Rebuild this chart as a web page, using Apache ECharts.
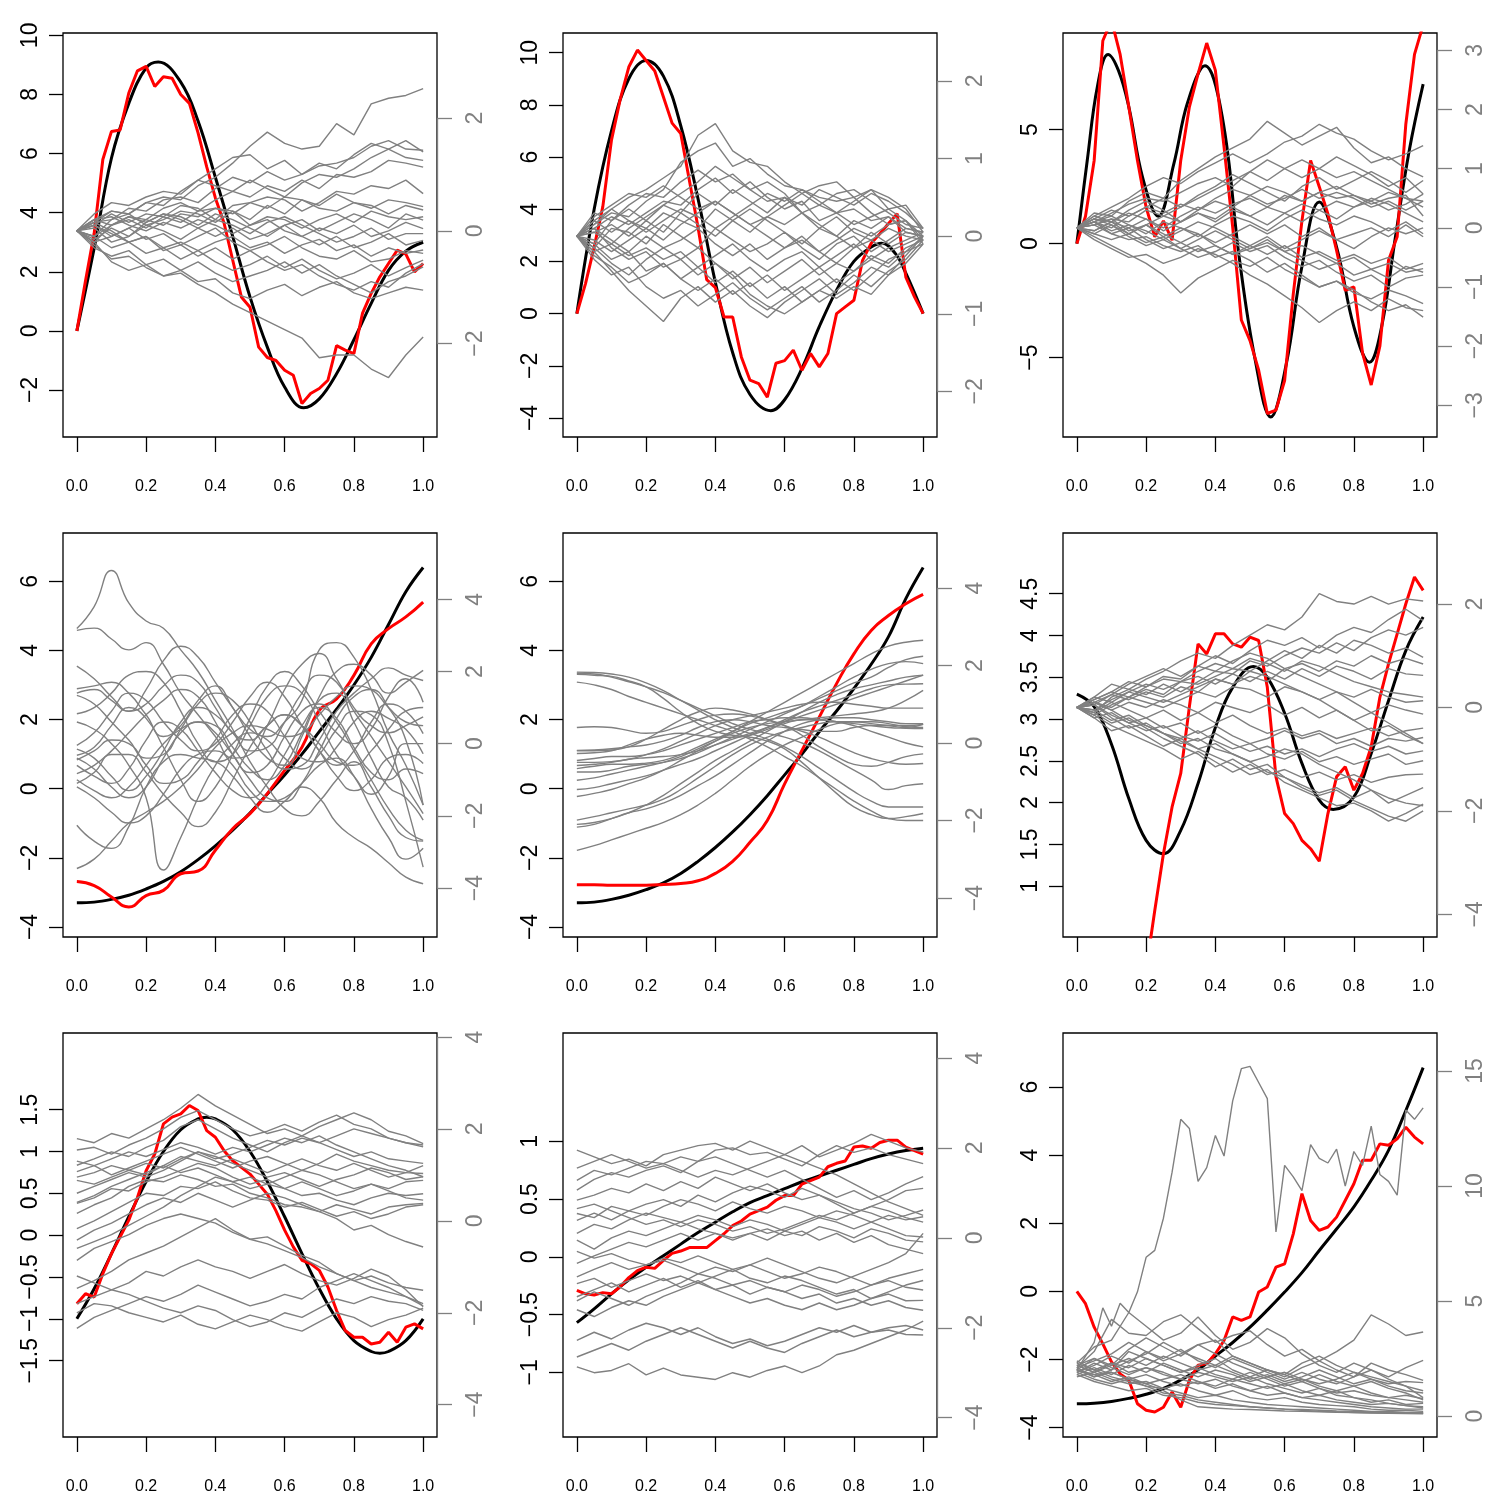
<!DOCTYPE html>
<html>
<head>
<meta charset="utf-8">
<script src="https://cdn.jsdelivr.net/npm/echarts@6/dist/echarts.min.js"></script>
<style>
  html, body { margin: 0; padding: 0; background: #fff; }
  #chart { width: 1500px; height: 1500px; }
</style>
</head>
<body>
<div id="chart"></div>
<script>
// x grids
var xTicks = [0, 0.2, 0.4, 0.6, 0.8, 1];
var xCoarse = [0, 0.05, 0.1, 0.15, 0.2, 0.25, 0.3, 0.35, 0.4, 0.45, 0.5, 0.55, 0.6, 0.65, 0.7, 0.75, 0.8, 0.85, 0.9, 0.95, 1];
var xFine = [0, 0.025, 0.05, 0.075, 0.1, 0.125, 0.15, 0.175, 0.2, 0.225, 0.25, 0.275, 0.3, 0.325, 0.35, 0.375, 0.4, 0.425, 0.45, 0.475, 0.5,
  0.525, 0.55, 0.575, 0.6, 0.625, 0.65, 0.675, 0.7, 0.725, 0.75, 0.775, 0.8, 0.825, 0.85, 0.875, 0.9, 0.925, 0.95, 0.975, 1];

// ---- panel 1
var p1LeftTicks = [-2, 0, 2, 4, 6, 8, 10];
var p1RightTicks = [-2, 0, 2];
var p1LeftRange = [-3.59, 10.08];
var p1RightRange = [-3.654, 3.507];
var p1BlackX = [0, 0.05, 0.1, 0.15, 0.2, 0.235, 0.3, 0.35, 0.4, 0.45, 0.5, 0.55, 0.6, 0.655, 0.7, 0.75, 0.8, 0.85, 0.9, 0.95, 1];
var p1Black = [0, 2.8, 5.85, 7.7, 8.9, 9.1, 8.42, 7.1, 5.2, 3.2, 1.15, -0.55, -1.9, -2.6, -2.3, -1.45, -0.3, 0.93, 2.05, 2.7, 3.0];
var p1Red = [0, 1.7, 3.3, 5.8, 6.75, 6.8, 8.05, 8.8, 8.95, 8.27, 8.6, 8.55, 8.0, 7.7, 6.7, 5.55, 4.5, 3.65, 2.4, 1.15, 0.8,
  -0.55, -0.9, -1.0, -1.33, -1.5, -2.46, -2.12, -1.95, -1.67, -0.5, -0.65, -0.77, 0.6, 1.27, 1.83, 2.28, 2.73, 2.6, 2.0, 2.28];
var p1Gray = [
  [0, 0.2, 0.35, 0.3, 0.5, 0.6, 0.55, 0.8, 0.95, 1.2, 1.5, 1.75, 1.55, 1.45, 1.5, 1.9, 1.7, 2.25, 2.35, 2.4, 2.52],
  [0, 0.3, 0.5, 0.45, 0.6, 0.7, 0.65, 0.9, 1.1, 1.3, 1.35, 1.1, 1.25, 1.0, 1.15, 1.2, 1.3, 1.5, 1.6, 1.45, 1.43],
  [0, 0.15, 0.2, 0.4, 0.35, 0.55, 0.6, 0.5, 0.75, 0.95, 0.85, 1.05, 0.9, 1.0, 1.2, 1.1, 1.35, 1.55, 1.45, 1.6, 1.4],
  [0, -0.1, 0.2, 0.3, 0.5, 0.45, 0.7, 0.9, 0.8, 0.7, 0.9, 0.75, 0.6, 0.85, 1.0, 0.95, 1.1, 1.3, 1.45, 1.3, 1.25],
  [0, 0.2, 0.1, 0.25, 0.2, 0.4, 0.5, 0.35, 0.55, 0.7, 0.6, 0.8, 0.7, 0.9, 0.75, 1.0, 0.95, 1.05, 1.25, 1.2, 1.13],
  [0, 0.1, 0.3, 0.15, 0.3, 0.25, 0.45, 0.4, 0.2, 0.45, 0.5, 0.6, 0.55, 0.35, 0.5, 0.7, 0.65, 0.8, 0.75, 0.9, 0.66],
  [0, -0.2, 0.1, 0.2, 0.05, 0.25, 0.15, 0.35, 0.4, 0.3, 0.5, 0.4, 0.6, 0.55, 0.45, 0.65, 0.5, 0.4, 0.55, 0.5, 0.43],
  [0, 0.15, 0.35, 0.3, 0.1, 0.2, 0.35, 0.3, 0.15, 0.35, 0.2, 0.45, 0.3, 0.55, 0.4, 0.35, 0.5, 0.45, 0.3, 0.45, 0.37],
  [0, 0.1, -0.1, 0.05, 0.2, 0.1, 0.3, 0.25, 0.4, 0.35, 0.1, 0.25, 0.2, 0.05, 0.2, 0.3, 0.15, 0.35, 0.25, 0.2, 0.25],
  [0, -0.15, 0.05, -0.1, 0.15, 0.3, 0.25, 0.1, 0.3, 0.2, 0.05, -0.1, 0.1, 0.2, 0.0, 0.15, 0.3, 0.2, 0.05, 0.3, 0.19],
  [0, 0.2, 0.25, 0.1, 0.0, 0.15, 0.05, 0.2, 0.1, -0.05, 0.1, 0.2, 0.0, -0.1, 0.05, -0.05, 0.1, -0.1, 0.0, 0.15, 0.04],
  [0, 0.05, -0.2, -0.1, 0.1, 0.0, -0.15, 0.05, 0.2, 0.1, -0.05, 0.15, 0.25, 0.1, -0.05, -0.2, -0.1, 0.05, -0.15, -0.05, -0.05],
  [0, -0.1, 0.1, 0.25, 0.15, 0.3, 0.2, 0.05, -0.1, 0.05, -0.15, -0.05, 0.1, -0.1, -0.25, -0.1, -0.3, -0.2, -0.05, -0.25, -0.17],
  [0, 0.1, -0.05, -0.2, -0.1, -0.3, -0.2, -0.35, -0.2, -0.1, -0.3, -0.2, -0.4, -0.25, -0.15, -0.35, -0.25, -0.45, -0.3, -0.4, -0.34],
  [0, -0.2, -0.1, 0.05, -0.15, -0.05, -0.25, -0.1, 0.05, -0.2, -0.35, -0.25, -0.1, -0.3, -0.45, -0.5, -0.35, -0.55, -0.5, -0.35, -0.4],
  [0, -0.1, -0.3, -0.2, -0.4, -0.3, -0.5, -0.35, -0.55, -0.7, -0.6, -0.45, -0.65, -0.5, -0.7, -0.85, -0.75, -0.6, -0.8, -0.65, -0.52],
  [0, 0.15, 0.0, -0.2, -0.1, -0.35, -0.25, -0.45, -0.3, -0.5, -0.35, -0.55, -0.7, -0.6, -0.8, -0.95, -1.05, -0.9, -1.0, -0.75, -0.58],
  [0, -0.3, -0.45, -0.35, -0.6, -0.5, -0.7, -0.55, -0.75, -0.9, -0.8, -0.7, -0.55, -0.75, -0.6, -0.8, -0.95, -1.1, -0.9, -0.8, -0.64],
  [0, -0.2, -0.55, -0.7, -0.6, -0.8, -0.7, -0.9, -0.85, -1.1, -1.2, -1.05, -0.95, -1.15, -1.0, -0.9, -1.1, -1.2, -1.1, -1.0, -1.05],
  [0, -0.25, -0.5, -0.45, -0.65, -0.8, -0.75, -0.95, -1.1, -1.3, -1.45, -1.6, -1.75, -1.9, -2.25, -2.2, -2.2, -2.45, -2.6, -2.2, -1.88]
];

// ---- panel 2
var p2LeftTicks = [-4, -2, 0, 2, 4, 6, 8, 10];
var p2RightTicks = [-2, -1, 0, 1, 2];
var p2LeftRange = [-4.728, 10.754];
var p2RightRange = [-2.588, 2.618];
var p2BlackX = [0, 0.05, 0.1, 0.15, 0.2, 0.25, 0.3, 0.35, 0.4, 0.45, 0.5, 0.56, 0.6, 0.65, 0.7, 0.75, 0.8, 0.85, 0.88, 0.92, 0.95, 1];
var p2Black = [0, 4.0, 7.0, 9.0, 9.7, 9.1, 7.2, 4.4, 1.2, -1.5, -3.1, -3.72, -3.3, -2.1, -0.5, 0.9, 2.0, 2.55, 2.7, 2.3, 1.55, 0];
var p2Red = [0, 1.15, 2.55, 4.1, 6.65, 8.2, 9.45, 10.1, 9.7, 9.3, 8.3, 7.3, 6.9, 5.1, 3.3, 1.3, 1.0, -0.13, -0.13, -1.66, -2.55,
  -2.68, -3.2, -1.9, -1.8, -1.4, -2.17, -1.53, -2.04, -1.53, 0.0, 0.26, 0.51, 2.04, 2.7, 3.06, 3.45, 3.83, 1.4, 0.64, 0];
var p2Gray = [
  [0, 0.2, 0.35, 0.5, 0.6, 0.75, 0.9, 1.3, 1.45, 1.1, 0.95, 0.9, 0.7, 0.55, 0.4, 0.3, 0.35, 0.2, 0.25, 0.1, 0.05],
  [0, 0.15, 0.3, 0.25, 0.45, 0.6, 0.95, 1.1, 1.2, 0.9, 1.0, 0.8, 0.65, 0.6, 0.5, 0.45, 0.5, 0.3, 0.15, 0.2, 0.0],
  [0, 0.3, 0.2, 0.4, 0.55, 0.5, 0.7, 0.85, 0.7, 0.8, 0.6, 0.45, 0.5, 0.3, 0.4, 0.55, 0.6, 0.45, 0.3, 0.15, 0.1],
  [0, 0.1, 0.25, 0.15, 0.3, 0.45, 0.4, 0.6, 0.75, 0.55, 0.7, 0.5, 0.35, 0.45, 0.2, 0.3, 0.15, 0.25, 0.35, 0.2, -0.05],
  [0, -0.1, 0.2, 0.35, 0.2, 0.4, 0.3, 0.55, 0.4, 0.6, 0.45, 0.3, 0.5, 0.4, 0.6, 0.5, 0.4, 0.55, 0.45, 0.3, 0.1],
  [0, 0.2, 0.05, 0.2, 0.1, 0.3, 0.2, 0.1, 0.35, 0.2, 0.05, 0.25, 0.15, 0.3, 0.1, 0.0, 0.2, 0.1, 0.25, 0.05, 0.0],
  [0, 0.05, 0.15, 0.0, 0.2, 0.05, 0.3, 0.15, 0.0, 0.2, 0.35, 0.2, 0.05, -0.1, 0.1, 0.25, 0.05, -0.05, 0.1, 0.0, -0.05],
  [0, -0.15, 0.1, 0.05, -0.1, 0.15, 0.0, -0.15, 0.1, -0.05, -0.2, -0.1, 0.05, -0.15, -0.3, -0.1, 0.0, -0.2, -0.05, 0.1, 0.05],
  [0, 0.1, -0.05, -0.2, 0.0, -0.15, -0.05, 0.1, -0.1, -0.25, -0.1, -0.3, -0.15, -0.05, -0.2, -0.35, -0.15, -0.05, -0.2, -0.1, 0.0],
  [0, -0.2, -0.1, -0.25, -0.15, -0.3, -0.2, -0.4, -0.25, -0.1, -0.3, -0.45, -0.3, -0.2, -0.4, -0.25, -0.1, -0.3, -0.15, -0.05, 0.05],
  [0, 0.1, -0.15, -0.3, -0.2, -0.4, -0.3, -0.5, -0.35, -0.55, -0.4, -0.6, -0.45, -0.3, -0.5, -0.35, -0.45, -0.25, -0.35, -0.15, -0.05],
  [0, -0.1, -0.3, -0.2, -0.45, -0.35, -0.55, -0.4, -0.6, -0.45, -0.65, -0.5, -0.7, -0.55, -0.4, -0.6, -0.45, -0.3, -0.4, -0.2, 0.0],
  [0, -0.25, -0.4, -0.6, -0.5, -0.35, -0.55, -0.7, -0.55, -0.75, -0.6, -0.8, -0.65, -0.85, -0.7, -0.55, -0.7, -0.5, -0.3, -0.2, -0.1],
  [0, -0.3, -0.5, -0.4, -0.65, -0.8, -0.7, -0.9, -0.75, -0.6, -0.8, -0.95, -0.8, -0.65, -0.85, -0.7, -0.5, -0.65, -0.45, -0.3, -0.05],
  [0, -0.2, -0.45, -0.7, -0.9, -1.1, -0.8, -0.65, -0.85, -0.7, -0.9, -1.05, -0.85, -0.7, -0.55, -0.75, -0.6, -0.4, -0.5, -0.25, 0.0],
  [0, 0.25, 0.4, 0.55, 0.5, 0.65, 0.5, 0.35, 0.45, 0.3, 0.15, 0.25, 0.4, 0.55, 0.65, 0.7, 0.5, 0.6, 0.35, 0.4, 0.1],
  [0, 0.15, 0.35, 0.2, 0.05, 0.2, 0.35, 0.25, 0.1, 0.25, 0.4, 0.55, 0.45, 0.6, 0.45, 0.3, 0.45, 0.6, 0.5, 0.35, 0.05],
  [0, -0.05, -0.2, -0.05, 0.1, -0.05, 0.15, 0.3, 0.45, 0.3, 0.15, 0.0, -0.15, 0.0, -0.2, -0.05, 0.1, 0.0, 0.15, 0.2, -0.1],
  [0, 0.05, -0.1, 0.1, 0.25, 0.4, 0.55, 0.7, 0.9, 0.75, 0.6, 0.7, 0.55, 0.3, 0.15, 0.0, -0.15, 0.05, -0.1, 0.05, 0.0],
  [0, -0.15, -0.35, -0.5, -0.3, -0.15, -0.3, -0.15, -0.35, -0.5, -0.75, -0.9, -1.0, -0.85, -0.7, -0.8, -0.65, -0.75, -0.5, -0.35, -0.1]
];

// ---- panel 3
var p3LeftTicks = [-5, 0, 5];
var p3RightTicks = [-3, -2, -1, 0, 1, 2, 3];
var p3LeftRange = [-8.48, 9.24];
var p3RightRange = [-3.535, 3.293];
var p3BlackX = [0, 0.03, 0.06, 0.09, 0.12, 0.15, 0.19, 0.235, 0.28, 0.32, 0.37, 0.42, 0.47, 0.515, 0.56, 0.605, 0.65, 0.7, 0.75, 0.8, 0.845, 0.88, 0.92, 0.96, 1];
var p3Black = [0, 3.65, 6.95, 8.3, 7.6, 6.0, 2.9, 1.2, 3.5, 6.2, 7.8, 5.55, -0.73, -5.1, -7.6, -5.26, -1.0, 1.83, -0.15, -3.65, -5.2, -3.65, 0.3, 4.1, 7.0];
var p3Red = [0, 1.2, 3.65, 8.9, 9.8, 8.3, 6.0, 3.65, 1.6, 0.3, 1.0, 0.15, 3.65, 6.0, 7.45, 8.8, 7.6, 4.25, 0.73, -3.35, -4.25,
  -5.55, -7.45, -7.3, -6.0, -2.2, 1.0, 3.65, 2.5, 1.3, -0.3, -2.05, -1.9, -4.8, -6.2, -4.5, -0.73, 0.3, 5.25, 8.3, 9.6];
var p3Gray = [
  [0, 0.15, 0.3, 0.2, 0.35, 0.5, 0.8, 1.0, 1.2, 1.35, 1.5, 1.8, 1.6, 1.4, 1.55, 1.7, 1.35, 1.1, 1.2, 1.0, 0.86],
  [0, 0.2, 0.35, 0.5, 0.7, 0.85, 0.75, 0.95, 1.1, 1.25, 1.1, 1.25, 1.45, 1.55, 1.75, 1.6, 1.5, 1.3, 1.15, 1.25, 1.39],
  [0, 0.1, 0.25, 0.4, 0.5, 0.45, 0.6, 0.75, 0.85, 0.7, 0.95, 1.15, 1.0, 0.85, 1.0, 1.2, 1.05, 0.9, 0.7, 0.85, 0.57],
  [0, 0.25, 0.2, 0.45, 0.6, 0.5, 0.35, 0.55, 0.7, 0.9, 0.75, 0.6, 0.45, 0.7, 0.85, 0.65, 0.8, 0.95, 0.8, 0.6, 0.8],
  [0, 0.1, 0.0, 0.2, 0.35, 0.25, 0.4, 0.3, 0.5, 0.65, 0.55, 0.7, 0.6, 0.45, 0.6, 0.7, 0.55, 0.45, 0.6, 0.5, 0.35],
  [0, 0.05, 0.15, 0.1, 0.3, 0.2, 0.1, 0.3, 0.45, 0.35, 0.55, 0.4, 0.5, 0.65, 0.5, 0.6, 0.5, 0.35, 0.45, 0.3, 0.45],
  [0, 0.15, 0.1, 0.25, 0.15, 0.0, 0.2, 0.35, 0.25, 0.4, 0.5, 0.35, 0.55, 0.45, 0.6, 0.5, 0.55, 0.4, 0.5, 0.55, 0.2],
  [0, -0.05, 0.1, 0.0, 0.15, -0.05, 0.1, 0.25, 0.1, 0.3, 0.2, 0.35, 0.25, 0.1, 0.3, 0.45, 0.35, 0.5, 0.4, 0.25, 0.1],
  [0, 0.1, -0.05, 0.05, -0.1, 0.1, 0.0, -0.15, 0.05, 0.2, 0.1, -0.05, 0.15, 0.3, 0.15, 0.05, 0.2, 0.1, -0.05, 0.1, -0.1],
  [0, 0.05, 0.15, -0.05, 0.05, -0.15, 0.0, -0.1, -0.25, -0.1, 0.05, -0.1, 0.05, -0.15, 0.0, -0.2, -0.1, 0.0, -0.15, 0.05, -0.15],
  [0, -0.1, 0.05, -0.15, -0.3, -0.2, -0.35, -0.2, -0.05, -0.2, -0.35, -0.25, -0.4, -0.3, -0.45, -0.6, -0.5, -0.7, -0.6, -0.75, -0.69],
  [0, 0.1, -0.1, 0.0, -0.2, -0.35, -0.25, -0.1, -0.3, -0.45, -0.35, -0.2, -0.4, -0.55, -0.7, -0.6, -0.8, -0.7, -0.85, -0.65, -0.75],
  [0, -0.05, 0.1, -0.1, -0.25, -0.15, -0.35, -0.5, -0.4, -0.25, -0.4, -0.3, -0.5, -0.65, -0.55, -0.75, -0.9, -0.8, -1.0, -0.85, -0.8],
  [0, -0.15, -0.3, -0.45, -0.6, -0.8, -1.1, -0.85, -0.7, -0.55, -0.65, -0.5, -0.7, -0.85, -1.0, -0.9, -1.1, -1.2, -1.05, -1.15, -1.28],
  [0, -0.2, -0.35, -0.5, -0.45, -0.6, -0.5, -0.35, -0.45, -0.6, -0.8, -0.95, -1.15, -1.35, -1.6, -1.4, -1.25, -1.4, -1.2, -1.35, -1.4],
  [0, 0.05, -0.1, -0.2, -0.15, -0.3, -0.4, -0.3, -0.5, -0.4, -0.55, -0.75, -0.6, -0.8, -1.0, -0.9, -1.05, -1.25, -1.4, -1.3, -1.51],
  [0, 0.2, 0.1, 0.3, 0.45, 0.3, 0.1, 0.25, 0.15, 0.35, 0.2, 0.05, 0.25, 0.4, 0.3, 0.15, 0.35, 0.45, 0.3, 0.4, 0.57],
  [0, 0.1, 0.2, 0.05, -0.05, -0.2, -0.05, 0.1, 0.0, -0.15, -0.3, -0.45, -0.3, -0.5, -0.4, -0.55, -0.45, -0.6, -0.5, -0.7, -0.6],
  [0, -0.1, -0.2, -0.1, 0.05, 0.2, 0.35, 0.5, 0.65, 0.8, 0.95, 0.8, 1.0, 1.15, 1.0, 0.85, 0.95, 0.8, 0.65, 0.5, 0.45],
  [0, 0.15, 0.05, -0.1, 0.05, -0.1, -0.25, -0.4, -0.3, -0.45, -0.3, -0.15, -0.35, -0.2, -0.05, -0.2, -0.35, -0.15, 0.0, -0.1, 0.0]
];

// ---- panel 4
var p4LeftTicks = [-4, -2, 0, 2, 4, 6];
var p4RightTicks = [-4, -2, 0, 2, 4];
var p4LeftRange = [-4.289, 7.398];
var p4RightRange = [-5.357, 5.837];
var p4Black = [-3.3, -3.28, -3.2, -3.08, -2.9, -2.68, -2.4, -2.05, -1.65, -1.2, -0.7, -0.15, 0.4, 1.0, 1.65, 2.3, 3.0, 3.8, 4.75, 5.7, 6.4];
var p4Red = [-2.68, -2.8, -3.13, -3.42, -3.09, -2.94, -2.46, -2.38, -1.78, -1.16, -0.72, -0.14, 0.53, 1.2, 2.27, 2.6, 3.28, 4.19, 4.63, 4.97, 5.4];
var p4Gray = [
  [3.19, 3.8, 4.8, 3.9, 3.4, 3.2, 2.6, 2.0, 1.2, 0.4, -0.5, -1.2, -1.8, -2.0, -1.6, -1.0, -0.5, -1.2, -2.0, -2.6, -2.7],
  [3.14, 3.2, 2.9, 2.6, 2.8, 2.2, 1.4, 0.8, 0.2, -0.4, -0.3, 0.5, 1.5, 2.2, 2.5, 1.8, 1.0, 0.5, 0.3, 0.5, 0.74],
  [2.15, 1.8, 1.3, 0.9, 1.5, 2.3, 2.7, 2.4, 1.7, 1.0, 0.4, 0.2, 0.6, 1.2, 2.6, 2.8, 2.4, 1.5, 0.3, -0.6, -1.7],
  [1.52, 1.6, 1.7, 1.4, 0.8, 0.2, 0.5, 1.2, 1.6, 1.0, 0.2, -0.4, -0.6, 0.2, 1.3, 2.0, 2.2, 1.9, 1.4, 1.7, 2.03],
  [1.34, 1.1, 0.6, 0.1, -0.4, -0.3, 0.4, 1.1, 1.4, 1.2, 0.6, -0.2, -0.7, -0.6, 0.1, 0.9, 1.4, 1.8, 2.1, 1.9, 1.75],
  [1.4, 1.5, 1.2, 0.9, 1.1, 1.6, 1.9, 1.7, 1.0, 0.3, 0.1, 0.5, 0.8, 0.5, -0.2, -0.6, -0.2, 0.6, 1.1, 0.9, 0.28],
  [0.83, 1.0, 1.4, 1.9, 2.0, 1.7, 0.9, 0.0, -0.5, -0.3, 0.5, 1.3, 1.6, 1.4, 0.6, -0.3, -0.9, -1.4, -0.9, 0.0, 0.0],
  [-0.05, 0.3, 0.9, 1.4, 1.2, 0.6, 0.1, -0.2, 0.0, 0.6, 1.3, 1.7, 1.3, 0.5, -0.2, -0.9, -1.3, -1.0, -0.4, -0.3, -0.55],
  [-0.15, -0.4, -0.9, -1.3, -0.9, -0.2, 0.6, 1.0, 0.8, 0.3, -0.2, -0.1, 0.6, 1.4, 1.9, 1.7, 0.9, 0.2, -0.5, -1.2, -1.94],
  [-0.32, -0.1, 0.5, 1.0, 0.7, -0.1, -1.0, -1.6, -1.2, -0.3, 0.7, 1.6, 2.0, 1.6, 0.9, 0.3, 0.0, 0.4, 1.3, 1.8, 1.15],
  [-0.4, -0.7, -1.2, -1.5, -1.2, -0.4, 0.3, 0.6, 0.5, -0.1, -0.7, -1.0, -0.6, 0.3, 1.2, 1.4, 0.6, -0.4, -1.2, -1.5, -2.12],
  [-0.45, -0.2, 0.1, 0.0, -0.6, -1.1, -1.0, -0.5, 0.1, 0.8, 1.1, 0.9, 0.2, -0.4, -0.5, -0.1, 0.6, 0.9, 0.7, 0.4, -0.28],
  [-0.6, -0.9, -1.1, -0.7, 0.1, 0.6, 0.4, -0.2, -0.8, -1.3, -1.5, -1.1, -0.3, 0.5, 1.0, 0.7, -0.1, -0.8, -1.0, -0.7, -0.83],
  [-0.83, -0.6, -0.2, 0.3, 0.8, 1.2, 1.5, 1.3, 0.6, -0.3, -1.0, -1.5, -1.6, -1.1, -0.2, 0.7, 1.3, 1.5, 1.0, 0.1, -1.7],
  [-1.0, -1.3, -1.5, -1.2, -0.6, 0.0, 0.4, 0.6, 0.3, -0.3, -0.8, -0.6, 0.2, 0.9, 1.1, 0.6, -0.2, -1.0, -1.8, -2.4, -2.68],
  [-1.1, -0.8, -0.3, -0.3, -0.8, -1.4, -1.9, -2.3, -1.9, -1.0, -0.1, 0.5, 0.8, 0.5, 0.0, -0.5, -0.6, -0.2, 0.4, 0.9, 1.0],
  [-1.2, -1.5, -1.9, -2.2, -2.0, -1.4, -0.7, -0.3, -0.2, -0.6, -1.3, -1.6, -1.5, -1.1, -0.6, -0.4, -0.9, -1.8, -2.6, -3.2, -2.9],
  [-2.26, -2.7, -2.9, -2.3, -1.2, -0.5, -0.3, -0.4, -0.5, -0.9, -1.5, -1.9, -1.6, -1.2, -1.5, -2.2, -2.6, -2.9, -3.3, -3.7, -3.88],
  [-3.46, -3.2, -2.7, -2.2, -1.9, -1.6, -1.2, -0.7, -0.1, 0.3, 0.5, 0.4, 0.2, 0.3, 0.8, 1.3, 1.6, 1.5, 1.0, 0.6, 0.5],
  [0.6, 0.4, 0.0, -0.6, -1.5, -3.5, -2.6, -1.5, -0.6, 0.0, 0.3, 0.1, -0.4, -0.7, -0.3, 0.4, 0.9, 0.8, 0.0, -1.6, -3.42]
];

// ---- panel 5
var p5LeftTicks = [-4, -2, 0, 2, 4, 6];
var p5RightTicks = [-4, -2, 0, 2, 4];
var p5LeftRange = [-4.289, 7.398];
var p5RightRange = [-5.006, 5.419];
var p5Black = [-3.3, -3.28, -3.2, -3.08, -2.92, -2.72, -2.45, -2.1, -1.7, -1.25, -0.75, -0.2, 0.4, 1.0, 1.65, 2.25, 2.9, 3.6, 4.4, 5.5, 6.4];
var p5Red = [-2.78, -2.78, -2.79, -2.79, -2.79, -2.77, -2.74, -2.66, -2.45, -2.1, -1.55, -0.92, 0.14, 1.11, 2.07, 3.04, 3.9, 4.58, 5.01, 5.35, 5.62];
var p5Gray = [
  [1.83, 1.82, 1.78, 1.7, 1.55, 1.35, 1.1, 0.85, 0.6, 0.4, 0.25, 0.1, -0.1, -0.35, -0.65, -0.95, -1.25, -1.5, -1.65, -1.65, -1.65],
  [1.77, 1.75, 1.72, 1.6, 1.45, 1.15, 0.8, 0.5, 0.3, 0.2, 0.15, 0.05, -0.15, -0.5, -0.9, -1.3, -1.65, -1.85, -1.95, -1.9, -1.82],
  [1.57, 1.5, 1.38, 1.2, 1.05, 0.9, 0.75, 0.6, 0.45, 0.3, 0.1, -0.1, -0.35, -0.6, -0.9, -1.2, -1.5, -1.75, -1.95, -2.0, -2.0],
  [0.4, 0.42, 0.4, 0.32, 0.25, 0.3, 0.45, 0.6, 0.72, 0.75, 0.7, 0.6, 0.45, 0.2, -0.1, -0.35, -0.55, -0.6, -0.5, -0.35, -0.28],
  [-0.19, -0.18, -0.15, -0.1, -0.05, 0.05, 0.2, 0.4, 0.55, 0.6, 0.55, 0.45, 0.4, 0.35, 0.3, 0.3, 0.4, 0.45, 0.45, 0.45, 0.48],
  [-0.2, -0.2, -0.18, -0.1, 0.1, 0.35, 0.6, 0.8, 0.9, 0.85, 0.75, 0.6, 0.45, 0.3, 0.15, -0.05, -0.25, -0.4, -0.5, -0.55, -0.53],
  [-0.27, -0.25, -0.2, -0.05, 0.1, 0.2, 0.25, 0.2, 0.15, 0.15, 0.2, 0.35, 0.5, 0.6, 0.6, 0.55, 0.5, 0.45, 0.4, 0.38, 0.37],
  [-0.58, -0.55, -0.5, -0.42, -0.38, -0.35, -0.3, -0.2, -0.05, 0.1, 0.25, 0.4, 0.55, 0.7, 0.85, 1.0, 1.15, 1.3, 1.45, 1.6, 1.75],
  [-0.66, -0.6, -0.55, -0.55, -0.52, -0.45, -0.3, -0.1, 0.1, 0.3, 0.5, 0.65, 0.8, 0.95, 1.15, 1.35, 1.55, 1.7, 1.95, 2.15, 2.24],
  [-0.75, -0.75, -0.7, -0.6, -0.55, -0.5, -0.4, -0.25, -0.05, 0.15, 0.35, 0.55, 0.75, 0.95, 1.2, 1.45, 1.7, 1.9, 2.05, 2.1, 2.05],
  [-0.96, -0.9, -0.8, -0.7, -0.6, -0.5, -0.35, -0.15, 0.05, 0.25, 0.4, 0.5, 0.55, 0.6, 0.65, 0.7, 0.75, 0.8, 0.9, 1.1, 1.36],
  [-1.2, -1.15, -1.05, -0.95, -0.85, -0.7, -0.55, -0.4, -0.2, 0.0, 0.2, 0.4, 0.6, 0.8, 0.95, 1.1, 1.25, 1.4, 1.5, 1.52, 1.53],
  [-1.38, -1.3, -1.2, -1.05, -0.9, -0.7, -0.45, -0.2, 0.05, 0.3, 0.55, 0.8, 1.05, 1.3, 1.55, 1.8, 2.05, 2.3, 2.5, 2.6, 2.65],
  [-1.99, -1.9, -1.8, -1.7, -1.6, -1.45, -1.2, -0.9, -0.6, -0.3, -0.05, 0.15, 0.3, 0.4, 0.5, 0.55, 0.55, 0.5, 0.45, 0.4, 0.48],
  [-2.1, -2.05, -1.95, -1.8, -1.6, -1.35, -1.05, -0.75, -0.45, -0.2, 0.05, 0.3, 0.55, 0.8, 1.05, 1.25, 1.4, 1.5, 1.6, 1.7, 1.75],
  [-2.17, -2.1, -1.95, -1.8, -1.7, -1.55, -1.35, -1.1, -0.85, -0.55, -0.25, 0.05, 0.3, 0.5, 0.6, 0.65, 0.65, 0.6, 0.55, 0.5, 0.5],
  [-2.77, -2.65, -2.5, -2.35, -2.2, -2.05, -1.85, -1.6, -1.3, -0.95, -0.6, -0.3, -0.05, 0.15, 0.35, 0.5, 0.55, 0.55, 0.5, 0.42, 0.4],
  [-0.45, -0.4, -0.35, -0.35, -0.3, -0.2, -0.05, 0.1, 0.25, 0.4, 0.55, 0.6, 0.65, 0.65, 0.6, 0.55, 0.45, 0.3, 0.15, 0.0, -0.1],
  [1.8, 1.78, 1.7, 1.58, 1.45, 1.3, 1.1, 0.9, 0.7, 0.5, 0.35, 0.25, 0.15, 0.0, -0.2, -0.45, -0.7, -0.95, -1.2, -1.1, -1.05],
  [-0.5, -0.5, -0.48, -0.42, -0.3, -0.15, 0.05, 0.25, 0.45, 0.6, 0.7, 0.8, 0.9, 1.0, 1.05, 1.05, 1.0, 0.95, 0.9, 0.9, 0.9]
];

// ---- panel 6
var p6LeftTicks = [1, 1.5, 2, 2.5, 3, 3.5, 4, 4.5];
var p6RightTicks = [-4, -2, 0, 2];
var p6LeftRange = [0.394, 5.226];
var p6RightRange = [-4.439, 3.374];
var p6BlackX = [0, 0.05, 0.1, 0.15, 0.2, 0.25, 0.3, 0.35, 0.4, 0.45, 0.51, 0.55, 0.6, 0.65, 0.7, 0.74, 0.8, 0.85, 0.9, 0.95, 1];
var p6Black = [3.3, 3.15, 2.7, 2.05, 1.55, 1.39, 1.67, 2.23, 2.9, 3.38, 3.63, 3.5, 3.07, 2.47, 2.03, 1.92, 2.07, 2.59, 3.22, 3.82, 4.22];
var p6RedX = xFine.slice(8);
var p6Red = [0.0, 0.71, 1.39, 1.95, 2.35, 3.15, 3.9, 3.78, 4.02, 4.02, 3.9, 3.86, 3.98, 3.94, 3.38, 2.31, 1.87, 1.75, 1.55, 1.45,
  1.3, 1.87, 2.31, 2.43, 2.15, 2.35, 2.67, 3.26, 3.66, 4.02, 4.38, 4.7, 4.54];
var p6Gray = [
  [0, 0.2, 0.45, 0.35, 0.55, 0.7, 0.9, 1.05, 0.95, 1.2, 1.4, 1.6, 1.5, 1.75, 2.2, 2.05, 2.0, 2.15, 2.0, 2.1, 2.06],
  [0, 0.15, 0.3, 0.5, 0.4, 0.6, 0.55, 0.8, 1.0, 0.85, 1.1, 1.3, 1.2, 1.35, 1.15, 1.4, 1.55, 1.45, 1.7, 1.9, 1.68],
  [0, -0.1, 0.2, 0.35, 0.25, 0.45, 0.3, 0.5, 0.7, 0.65, 0.9, 0.8, 1.0, 1.15, 1.05, 1.25, 1.1, 1.35, 1.5, 1.4, 1.55],
  [0, 0.1, 0.0, 0.2, 0.35, 0.25, 0.5, 0.45, 0.6, 0.75, 0.7, 0.9, 1.1, 0.95, 1.2, 1.05, 1.3, 1.2, 1.05, 1.15, 0.97],
  [0, 0.05, 0.25, 0.15, 0.3, 0.2, 0.4, 0.3, 0.55, 0.45, 0.6, 0.5, 0.75, 0.85, 0.7, 0.9, 0.8, 1.0, 0.85, 0.95, 0.84],
  [0, 0.2, 0.1, 0.3, 0.45, 0.35, 0.5, 0.6, 0.45, 0.65, 0.5, 0.7, 0.55, 0.75, 0.6, 0.8, 0.7, 0.55, 0.75, 0.65, 0.62],
  [0, -0.15, 0.05, 0.2, 0.1, 0.0, 0.15, 0.3, 0.2, 0.4, 0.35, 0.2, 0.4, 0.3, 0.15, 0.3, 0.2, 0.35, 0.2, 0.1, 0.13],
  [0, 0.1, -0.05, 0.1, 0.0, 0.15, 0.05, -0.1, 0.1, 0.0, -0.1, 0.05, -0.15, 0.0, -0.2, -0.05, -0.25, -0.1, 0.05, -0.05, -0.13],
  [0, -0.1, 0.1, -0.05, -0.2, -0.05, -0.25, -0.1, -0.3, -0.15, -0.35, -0.5, -0.4, -0.55, -0.45, -0.6, -0.5, -0.4, -0.55, -0.45, -0.4],
  [0, 0.05, -0.15, -0.3, -0.2, -0.4, -0.3, -0.5, -0.35, -0.55, -0.7, -0.6, -0.45, -0.6, -0.5, -0.7, -0.6, -0.75, -0.6, -0.65, -0.58],
  [0, -0.2, -0.1, -0.3, -0.45, -0.35, -0.55, -0.65, -0.5, -0.7, -0.85, -0.75, -0.9, -0.8, -0.95, -0.8, -0.7, -0.85, -0.75, -0.9, -0.84],
  [0, 0.1, -0.05, -0.25, -0.35, -0.5, -0.6, -0.45, -0.65, -0.8, -0.7, -0.9, -1.0, -0.85, -1.05, -0.95, -1.1, -1.0, -0.9, -1.1, -1.03],
  [0, -0.15, -0.35, -0.5, -0.65, -0.8, -1.0, -0.85, -1.05, -1.25, -1.1, -1.3, -1.2, -1.35, -1.25, -1.4, -1.3, -1.45, -1.35, -1.3, -1.29],
  [0, -0.1, -0.3, -0.2, -0.4, -0.6, -0.75, -0.9, -1.15, -1.0, -1.2, -1.1, -1.35, -1.5, -1.65, -1.55, -1.75, -1.6, -1.85, -1.7, -1.55],
  [0, -0.2, -0.45, -0.35, -0.55, -0.75, -0.6, -0.8, -0.95, -1.1, -1.3, -1.2, -1.45, -1.6, -1.75, -1.9, -1.85, -2.0, -2.2, -2.05, -1.87],
  [0, 0.05, -0.2, -0.4, -0.3, -0.5, -0.7, -0.6, -0.8, -0.9, -1.05, -1.25, -1.35, -1.55, -1.7, -1.6, -1.8, -1.95, -2.1, -2.2, -2.0],
  [0, 0.15, 0.3, 0.2, 0.4, 0.55, 0.5, 0.7, 0.85, 0.75, 0.95, 0.85, 0.7, 0.9, 0.8, 0.65, 0.5, 0.4, 0.3, 0.25, 0.2],
  [0, -0.05, 0.15, 0.3, 0.2, 0.1, 0.25, 0.4, 0.55, 0.45, 0.7, 0.6, 0.45, 0.3, 0.15, -0.05, -0.25, -0.45, -0.35, -0.55, -0.7],
  [0, 0.1, 0.25, 0.45, 0.6, 0.75, 0.6, 0.8, 0.7, 0.9, 1.05, 0.95, 0.75, 0.6, 0.45, 0.3, 0.1, -0.1, -0.3, -0.5, -0.7],
  [0, -0.05, -0.25, -0.15, -0.35, -0.5, -0.65, -0.8, -0.7, -0.9, -1.05, -0.95, -0.8, -0.9, -1.1, -1.25, -1.4, -1.6, -1.75, -1.85, -1.9]
];

// ---- panel 7
var p7LeftTicks = [-1.5, -1, -0.5, 0, 0.5, 1, 1.5];
var p7RightTicks = [-4, -2, 0, 2, 4];
var p7LeftRange = [-2.412, 2.416];
var p7RightRange = [-4.703, 4.087];
var p7BlackX = [0, 0.05, 0.1, 0.15, 0.2, 0.25, 0.3, 0.35, 0.375, 0.4, 0.45, 0.5, 0.55, 0.6, 0.65, 0.7, 0.75, 0.8, 0.85, 0.875, 0.9, 0.95, 1];
var p7Black = [-1.0, -0.64, -0.22, 0.22, 0.64, 1.0, 1.26, 1.39, 1.41, 1.39, 1.26, 1.0, 0.64, 0.22, -0.22, -0.64, -1.0, -1.26, -1.39, -1.41, -1.39, -1.26, -1.0];
var p7Red = [-0.82, -0.7, -0.74, -0.46, -0.22, -0.02, 0.18, 0.45, 0.77, 0.97, 1.33, 1.41, 1.45, 1.55, 1.49, 1.25, 1.17, 1.01, 0.89, 0.81, 0.73,
  0.61, 0.49, 0.29, 0.06, -0.14, -0.3, -0.34, -0.42, -0.62, -0.9, -1.14, -1.22, -1.22, -1.3, -1.28, -1.16, -1.28, -1.1, -1.06, -1.12];
var p7Gray = [
  [1.79, 1.7, 1.9, 1.8, 2.0, 2.2, 2.45, 2.75, 2.5, 2.3, 2.1, 1.9, 2.0, 1.85, 2.05, 2.2, 2.35, 2.2, 1.95, 1.85, 1.68],
  [1.54, 1.6, 1.45, 1.65, 1.8, 2.0, 2.25, 2.4, 2.2, 2.0, 1.85, 1.95, 2.1, 1.95, 2.15, 2.3, 2.1, 2.0, 1.8, 1.7, 1.61],
  [1.21, 1.35, 1.5, 1.4, 1.6, 1.75, 2.05, 2.2, 2.0, 1.8, 1.65, 1.5, 1.7, 1.85, 1.7, 1.55, 1.4, 1.5, 1.35, 1.3, 1.25],
  [1.07, 1.2, 1.0, 1.15, 1.3, 1.45, 1.6, 1.45, 1.3, 1.15, 1.3, 1.4, 1.25, 1.1, 1.25, 1.45, 1.3, 1.2, 1.1, 1.05, 1.03],
  [0.95, 1.05, 1.2, 1.1, 1.25, 1.15, 1.35, 1.5, 1.4, 1.25, 1.1, 0.95, 1.05, 0.9, 0.75, 0.9, 1.0, 1.15, 1.05, 0.9, 0.96],
  [0.88, 0.8, 0.95, 1.1, 1.0, 1.2, 1.05, 1.15, 1.0, 0.85, 0.95, 0.8, 0.7, 0.85, 0.7, 0.55, 0.65, 0.8, 0.7, 0.85, 0.88],
  [0.38, 0.5, 0.7, 0.65, 0.85, 0.95, 1.1, 1.25, 1.15, 0.95, 0.8, 0.9, 0.7, 0.55, 0.6, 0.45, 0.35, 0.5, 0.6, 0.55, 0.59],
  [0.16, 0.35, 0.5, 0.75, 0.9, 0.85, 1.0, 0.9, 0.75, 0.8, 0.6, 0.5, 0.35, 0.3, 0.2, 0.35, 0.25, 0.15, 0.3, 0.35, 0.38],
  [-0.17, 0.0, 0.2, 0.4, 0.6, 0.55, 0.75, 0.7, 0.85, 0.65, 0.5, 0.45, 0.3, 0.4, 0.25, 0.1, 0.2, 0.05, 0.15, 0.3, 0.35],
  [-0.42, -0.2, -0.05, 0.15, 0.35, 0.5, 0.4, 0.6, 0.45, 0.3, 0.45, 0.6, 0.5, 0.35, 0.2, 0.05, -0.2, -0.1, -0.3, -0.45, -0.57],
  [-0.86, -0.6, -0.45, -0.3, -0.1, 0.05, 0.15, 0.05, -0.05, -0.25, -0.4, -0.5, -0.65, -0.8, -1.0, -1.15, -1.3, -1.2, -1.35, -1.45, -1.51],
  [-1.47, -1.3, -1.1, -0.85, -0.7, -0.55, -0.35, -0.15, 0.05, -0.2, -0.4, -0.35, -0.55, -0.75, -0.9, -1.15, -1.3, -1.45, -1.55, -1.65, -1.8],
  [-1.8, -1.65, -1.5, -1.35, -1.1, -1.2, -1.0, -0.85, -1.0, -1.1, -1.25, -1.1, -0.95, -1.15, -1.3, -1.4, -1.25, -1.05, -1.2, -1.5, -1.87],
  [-2.34, -2.1, -1.95, -1.8, -1.65, -1.75, -1.6, -1.4, -1.55, -1.7, -1.85, -1.75, -1.6, -1.7, -1.45, -1.3, -1.15, -1.3, -1.45, -1.65, -1.85],
  [-1.2, -1.35, -1.5, -1.6, -1.75, -1.9, -2.0, -1.85, -1.95, -2.15, -2.3, -2.2, -2.0, -2.1, -1.9, -1.7, -1.8, -1.65, -1.75, -1.8, -1.95],
  [-2.0, -1.8, -1.85, -2.0, -2.1, -2.2, -2.05, -2.25, -2.35, -2.2, -2.05, -2.15, -2.3, -2.4, -2.2, -2.0, -2.1, -2.3, -2.15, -2.05, -1.9],
  [0.6, 0.75, 0.9, 1.05, 0.95, 1.1, 1.3, 1.5, 1.35, 1.45, 1.6, 1.75, 1.65, 1.8, 1.7, 1.85, 2.0, 1.9, 1.8, 1.7, 1.65],
  [1.3, 1.2, 1.35, 1.5, 1.4, 1.55, 1.7, 1.6, 1.45, 1.6, 1.5, 1.65, 1.8, 1.7, 1.85, 1.65, 1.5, 1.35, 1.2, 1.1, 0.96],
  [-0.6, -0.45, -0.3, -0.1, 0.1, 0.3, 0.55, 0.75, 0.95, 0.85, 0.7, 0.8, 0.95, 1.1, 1.0, 0.85, 0.7, 0.8, 0.65, 0.5, 0.45],
  [0.4, 0.55, 0.75, 0.9, 1.05, 1.2, 1.4, 1.3, 1.2, 1.35, 1.2, 1.05, 1.2, 1.35, 1.2, 1.1, 1.25, 1.1, 0.95, 1.05, 1.2]
];

// ---- panel 8
var p8LeftTicks = [-1, -0.5, 0, 0.5, 1];
var p8RightTicks = [-4, -2, 0, 2, 4];
var p8LeftRange = [-1.56, 1.938];
var p8RightRange = [-4.43, 4.556];
var p8Black = [-0.57, -0.45, -0.32, -0.2, -0.09, 0.01, 0.11, 0.21, 0.3, 0.39, 0.47, 0.53, 0.59, 0.65, 0.7, 0.75, 0.8, 0.85, 0.89, 0.92, 0.94];
var p8Red = [-0.29, -0.32, -0.33, -0.31, -0.32, -0.26, -0.18, -0.12, -0.09, -0.1, -0.03, 0.03, 0.05, 0.08, 0.08, 0.08, 0.14, 0.2, 0.27, 0.31, 0.37,
  0.4, 0.43, 0.49, 0.53, 0.53, 0.63, 0.66, 0.69, 0.78, 0.81, 0.83, 0.95, 0.96, 0.94, 0.99, 1.01, 1.01, 0.95, 0.92, 0.89];
var p8Gray = [
  [1.95, 1.8, 1.65, 1.75, 1.6, 1.85, 1.95, 2.05, 2.1, 1.95, 2.15, 2.0, 1.85, 2.05, 1.8, 1.95, 2.1, 2.3, 2.15, 2.0, 1.91],
  [1.28, 1.5, 1.4, 1.55, 1.7, 1.65, 1.8, 1.7, 1.95, 2.0, 1.85, 1.9, 1.75, 1.6, 1.85, 2.05, 1.9, 2.0, 1.85, 1.75, 1.65],
  [1.06, 1.3, 1.45, 1.35, 1.5, 1.6, 1.45, 1.7, 1.8, 1.65, 1.5, 1.35, 1.5, 1.3, 1.1, 0.9, 1.05, 0.85, 1.0, 1.2, 1.36],
  [0.84, 0.95, 1.1, 1.0, 1.2, 1.05, 1.25, 1.1, 1.35, 1.2, 1.05, 1.2, 1.0, 0.85, 0.95, 0.75, 0.55, 0.7, 0.85, 1.05, 1.1],
  [0.54, 0.45, 0.7, 0.6, 0.75, 0.85, 0.7, 0.95, 0.8, 1.0, 1.15, 1.05, 0.9, 1.1, 0.95, 0.8, 0.65, 0.55, 0.4, 0.5, 0.62],
  [0.39, 0.55, 0.4, 0.6, 0.5, 0.7, 0.85, 0.75, 0.6, 0.8, 0.65, 0.55, 0.7, 0.6, 0.45, 0.6, 0.5, 0.35, 0.5, 0.4, 0.47],
  [0.1, 0.3, 0.2, 0.4, 0.55, 0.45, 0.35, 0.5, 0.4, 0.25, 0.4, 0.3, 0.15, 0.3, 0.45, 0.35, 0.2, 0.35, 0.2, 0.05, 0.02],
  [-0.05, -0.25, 0.0, 0.15, 0.05, 0.2, 0.35, 0.2, 0.1, -0.05, 0.1, -0.05, 0.15, 0.05, 0.25, 0.15, 0.0, 0.2, 0.1, -0.05, -0.09],
  [-0.57, -0.4, -0.25, -0.1, -0.2, -0.05, 0.1, -0.05, 0.1, 0.0, 0.1, 0.2, 0.05, 0.15, -0.05, 0.1, -0.1, 0.05, -0.15, -0.25, -0.35],
  [-0.87, -0.7, -0.55, -0.7, -0.6, -0.45, -0.55, -0.4, -0.55, -0.7, -0.6, -0.75, -0.9, -0.8, -0.65, -0.75, -0.9, -1.05, -0.95, -1.1, -1.16],
  [-1.02, -0.9, -1.1, -0.95, -0.8, -0.95, -0.85, -1.0, -0.85, -0.7, -0.9, -1.0, -0.85, -0.95, -1.1, -1.25, -1.15, -1.35, -1.25, -1.4, -1.39],
  [-1.31, -1.15, -1.0, -1.2, -1.05, -0.9, -1.1, -0.95, -1.15, -1.05, -1.25, -1.1, -1.2, -1.35, -1.25, -1.45, -1.35, -1.5, -1.4, -1.55, -1.61],
  [-1.4, -1.2, -1.35, -1.5, -1.3, -1.15, -1.0, -0.8, -0.65, -0.75, -0.6, -0.45, -0.6, -0.75, -0.9, -1.0, -0.85, -0.7, -0.55, -0.35, 0.1],
  [-2.28, -2.1, -2.25, -2.05, -1.9, -2.0, -2.15, -2.0, -2.2, -2.35, -2.25, -2.4, -2.3, -2.15, -2.0, -2.1, -1.95, -2.1, -2.0, -1.95, -2.05],
  [-2.65, -2.5, -2.35, -2.5, -2.3, -2.15, -2.0, -2.15, -2.3, -2.45, -2.3, -2.45, -2.55, -2.35, -2.2, -2.05, -2.2, -2.1, -2.05, -2.15, -2.16],
  [-2.87, -3.0, -2.95, -2.8, -3.05, -2.9, -3.05, -3.1, -3.15, -3.0, -3.1, -2.95, -2.85, -3.0, -2.85, -2.6, -2.5, -2.35, -2.2, -2.05, -1.85],
  [-1.6, -1.75, -1.55, -1.4, -1.5, -1.3, -1.15, -1.0, -1.15, -1.3, -1.45, -1.35, -1.5, -1.6, -1.45, -1.6, -1.5, -1.35, -1.2, -1.05, -0.95],
  [0.65, 0.75, 0.6, 0.45, 0.3, 0.4, 0.25, 0.4, 0.3, 0.15, 0.25, 0.1, 0.2, 0.35, 0.5, 0.4, 0.55, 0.7, 0.6, 0.45, 0.35],
  [1.55, 1.7, 1.85, 1.7, 1.55, 1.65, 1.5, 1.35, 1.5, 1.4, 1.55, 1.7, 1.85, 1.7, 1.55, 1.4, 1.2, 1.0, 0.8, 0.65, 0.5],
  [-0.3, -0.45, -0.35, -0.5, -0.6, -0.5, -0.65, -0.8, -0.9, -1.05, -0.95, -1.1, -1.2, -1.05, -1.15, -1.3, -1.2, -1.05, -0.9, -0.8, -0.7]
];

// ---- panel 9
var p9LeftTicks = [-4, -2, 0, 2, 4, 6];
var p9RightTicks = [0, 5, 10, 15];
var p9LeftRange = [-4.274, 7.585];
var p9RightRange = [-0.913, 16.652];
var p9Black = [-3.3, -3.28, -3.23, -3.14, -3.02, -2.85, -2.6, -2.3, -1.9, -1.5, -1.05, -0.55, -0.02, 0.55, 1.2, 1.83, 2.48, 3.26, 4.14, 5.31, 6.57];
var p9Red = [0, -0.36, -1.05, -1.54, -2.07, -2.42, -2.61, -3.3, -3.49, -3.54, -3.4, -2.95, -3.4, -2.61, -2.17, -2.12, -1.83, -1.44, -0.75, -0.85, -0.75,
  -0.02, 0.13, 0.71, 0.81, 1.69, 2.87, 2.08, 1.79, 1.89, 2.18, 2.67, 3.16, 3.85, 3.85, 4.33, 4.29, 4.48, 4.82, 4.53, 4.33];
var p9Outlier = [2.0, 2.6, 3.2, 4.7, 3.9, 4.9, 4.5, 5.4, 6.9, 7.2, 8.6, 10.6, 12.9, 12.5, 10.2, 10.8, 12.2, 11.3, 13.7, 15.1, 15.2,
  14.5, 13.8, 8.0, 10.9, 10.4, 9.8, 11.8, 11.2, 11.0, 11.6, 10.0, 11.5, 10.9, 12.6, 10.5, 10.2, 9.6, 13.3, 12.9, 13.4];
var p9Gray = [
  [2.1, 2.8, 4.2, 3.6, 3.5, 4.1, 4.4, 3.8, 3.2, 3.5, 3.7, 3.1, 2.6, 2.9, 2.4, 2.8, 3.3, 4.4, 4.0, 3.5, 3.65],
  [2.3, 3.0, 3.3, 4.5, 3.9, 3.3, 3.6, 4.3, 3.5, 2.9, 3.2, 3.8, 3.4, 2.7, 2.2, 1.9, 2.3, 2.0, 1.7, 2.1, 2.42],
  [2.0, 2.5, 2.2, 2.9, 3.4, 3.0, 2.6, 3.1, 3.3, 2.6, 2.3, 2.0, 1.7, 2.1, 2.4, 2.0, 1.7, 2.3, 2.0, 1.8, 1.55],
  [1.9, 2.2, 2.6, 2.3, 2.8, 2.5, 2.9, 2.4, 2.1, 2.5, 2.2, 1.9, 1.6, 1.9, 1.6, 1.4, 1.7, 2.0, 1.6, 1.3, 0.8],
  [2.2, 1.9, 2.3, 2.1, 2.5, 2.2, 1.9, 2.2, 2.5, 2.0, 1.7, 2.0, 1.8, 1.5, 1.8, 1.5, 1.3, 1.5, 1.2, 1.0, 0.7],
  [1.8, 2.1, 1.8, 2.2, 1.9, 2.3, 2.0, 1.7, 2.0, 1.8, 1.5, 1.7, 1.4, 1.6, 1.3, 1.1, 1.3, 1.0, 0.8, 0.9, 0.75],
  [2.4, 2.0, 2.3, 1.9, 2.1, 1.8, 1.6, 1.9, 1.7, 1.5, 1.7, 1.4, 1.2, 1.0, 1.2, 0.9, 0.8, 0.6, 0.7, 0.5, 0.55],
  [2.0, 1.8, 1.5, 1.7, 1.4, 1.6, 1.8, 1.5, 1.3, 1.6, 1.4, 1.2, 1.4, 1.1, 0.9, 1.1, 0.8, 0.7, 0.55, 0.45, 0.4],
  [2.1, 1.7, 1.9, 1.6, 1.8, 1.5, 1.3, 1.5, 1.2, 1.4, 1.1, 0.9, 1.0, 0.8, 0.7, 0.6, 0.5, 0.4, 0.35, 0.3, 0.3],
  [1.9, 1.6, 1.4, 1.6, 1.3, 1.2, 1.4, 1.1, 0.9, 1.1, 0.8, 0.7, 0.8, 0.6, 0.5, 0.45, 0.4, 0.3, 0.25, 0.25, 0.2],
  [2.2, 1.9, 1.6, 1.4, 1.5, 1.2, 1.0, 0.8, 0.9, 0.7, 0.6, 0.5, 0.45, 0.4, 0.35, 0.3, 0.25, 0.2, 0.2, 0.15, 0.15],
  [1.8, 1.5, 1.3, 1.1, 1.2, 0.9, 0.8, 0.6, 0.5, 0.45, 0.4, 0.35, 0.3, 0.25, 0.2, 0.18, 0.15, 0.13, 0.12, 0.11, 0.1],
  [2.3, 2.0, 1.7, 1.5, 1.3, 1.0, 0.9, 0.7, 0.6, 0.5, 0.4, 0.35, 0.3, 0.28, 0.25, 0.22, 0.2, 0.18, 0.16, 0.15, 0.13],
  [2.0, 1.8, 1.9, 1.6, 1.4, 1.1, 0.7, 0.4, 0.35, 0.3, 0.28, 0.25, 0.22, 0.2, 0.18, 0.16, 0.15, 0.14, 0.13, 0.12, 0.12],
  [2.2, 2.5, 2.1, 1.8, 2.1, 1.9, 1.6, 1.4, 1.6, 1.3, 1.1, 1.3, 1.0, 0.8, 0.9, 0.7, 0.6, 0.5, 0.55, 0.45, 0.35],
  [1.7, 1.9, 2.2, 2.5, 2.2, 2.6, 2.3, 2.0, 2.2, 1.9, 1.6, 1.8, 1.5, 1.7, 2.0, 1.7, 1.4, 1.6, 1.3, 1.1, 1.0],
  [2.1, 2.4, 2.7, 3.2, 2.8, 2.4, 2.7, 3.1, 2.7, 2.3, 2.0, 1.7, 1.9, 1.6, 1.4, 1.6, 1.9, 1.6, 1.4, 1.5, 1.45],
  [1.9, 2.3, 2.0, 2.4, 2.7, 3.2, 2.8, 2.5, 2.2, 2.6, 2.3, 2.0, 1.8, 2.3, 2.6, 2.2, 1.9, 1.7, 1.5, 1.3, 1.1],
  [2.0, 1.7, 2.0, 2.8, 2.5, 2.2, 1.9, 2.1, 1.8, 1.6, 1.9, 1.6, 1.3, 1.5, 1.2, 1.0, 1.1, 0.9, 0.8, 0.7, 0.6]
];

var GRAY = '#808080';
var FONT = 'Liberation Sans, Arial, Helvetica, sans-serif';

function pairs(xs, ys) {
  return ys.map(function (y, i) { return [xs[i], y]; });
}
function minusFmt(v) { return String(v).replace('-', '\u2212'); }

var panels = [
  { blackX: p1BlackX, black: p1Black, red: p1Red, redX: xFine, redSmooth: false, gray: p1Gray, graySmooth: false,
    left: p1LeftRange, leftTicks: p1LeftTicks, right: p1RightRange, rightTicks: p1RightTicks },
  { blackX: p2BlackX, black: p2Black, red: p2Red, redX: xFine, redSmooth: false, gray: p2Gray, graySmooth: false,
    left: p2LeftRange, leftTicks: p2LeftTicks, right: p2RightRange, rightTicks: p2RightTicks },
  { blackX: p3BlackX, black: p3Black, red: p3Red, redX: xFine, redSmooth: false, gray: p3Gray, graySmooth: false,
    left: p3LeftRange, leftTicks: p3LeftTicks, right: p3RightRange, rightTicks: p3RightTicks },
  { blackX: xCoarse, black: p4Black, red: p4Red, redX: xCoarse, redSmooth: true, gray: p4Gray, graySmooth: true,
    left: p4LeftRange, leftTicks: p4LeftTicks, right: p4RightRange, rightTicks: p4RightTicks },
  { blackX: xCoarse, black: p5Black, red: p5Red, redX: xCoarse, redSmooth: true, gray: p5Gray, graySmooth: true,
    left: p5LeftRange, leftTicks: p5LeftTicks, right: p5RightRange, rightTicks: p5RightTicks },
  { blackX: p6BlackX, black: p6Black, red: p6Red, redX: p6RedX, redSmooth: false, gray: p6Gray, graySmooth: false,
    left: p6LeftRange, leftTicks: p6LeftTicks, right: p6RightRange, rightTicks: p6RightTicks },
  { blackX: p7BlackX, black: p7Black, red: p7Red, redX: xFine, redSmooth: false, gray: p7Gray, graySmooth: false,
    left: p7LeftRange, leftTicks: p7LeftTicks, right: p7RightRange, rightTicks: p7RightTicks },
  { blackX: xCoarse, black: p8Black, red: p8Red, redX: xFine, redSmooth: false, gray: p8Gray, graySmooth: false,
    left: p8LeftRange, leftTicks: p8LeftTicks, right: p8RightRange, rightTicks: p8RightTicks },
  { blackX: xCoarse, black: p9Black, red: p9Red, redX: xFine, redSmooth: false, gray: p9Gray, graySmooth: false,
    left: p9LeftRange, leftTicks: p9LeftTicks, right: p9RightRange, rightTicks: p9RightTicks, outlier: p9Outlier }
];

var grids = [], xAxes = [], yAxes = [], series = [];

panels.forEach(function (p, i) {
  var col = i % 3, row = Math.floor(i / 3);
  grids.push({
    left: 63 + col * 500, top: 33 + row * 500, width: 374, height: 404,
    show: true, borderColor: '#000', borderWidth: 1.3, backgroundColor: 'transparent'
  });
  xAxes.push({
    type: 'value', gridIndex: i, min: -0.04, max: 1.04, position: 'bottom',
    axisLine: { show: false, onZero: false }, splitLine: { show: false },
    axisTick: { show: true, customValues: xTicks, length: 15, lineStyle: { color: '#000', width: 1.3 } },
    axisLabel: { customValues: xTicks, fontSize: 16, fontFamily: FONT, color: '#000', margin: 42,
      formatter: function (v) { return v.toFixed(1); } }
  });
  yAxes.push({
    type: 'value', gridIndex: i, position: 'left', min: p.left[0], max: p.left[1],
    axisLine: { show: false, onZero: false }, splitLine: { show: false },
    axisTick: { show: true, customValues: p.leftTicks, length: 14, lineStyle: { color: '#000', width: 1.3 } },
    axisLabel: { customValues: p.leftTicks, rotate: 90, fontSize: 23, fontFamily: FONT, color: '#000', margin: 21,
      formatter: minusFmt }
  });
  yAxes.push({
    type: 'value', gridIndex: i, position: 'right', min: p.right[0], max: p.right[1],
    axisLine: { show: false, onZero: false }, splitLine: { show: false },
    axisTick: { show: true, customValues: p.rightTicks, length: 15, lineStyle: { color: GRAY, width: 1.3 } },
    axisLabel: { customValues: p.rightTicks, rotate: 90, fontSize: 23, fontFamily: FONT, color: GRAY, margin: 27,
      formatter: minusFmt }
  });

  series.push({
    type: 'line', xAxisIndex: i, yAxisIndex: 2 * i, data: pairs(p.blackX, p.black),
    smooth: 0.4, symbol: 'none', silent: true, lineStyle: { color: '#000', width: 3 }
  });
  series.push({
    type: 'line', xAxisIndex: i, yAxisIndex: 2 * i, data: pairs(p.redX, p.red),
    smooth: p.redSmooth, symbol: 'none', silent: true, lineStyle: { color: '#ff0000', width: 3 }
  });
  p.gray.forEach(function (g, k) {
    var s = {
      type: 'line', xAxisIndex: i, yAxisIndex: 2 * i + 1, data: pairs(xCoarse, g),
      smooth: p.graySmooth, symbol: 'none', silent: true, lineStyle: { color: GRAY, width: 1.4 }
    };
    if (k === 0) {
      // gray right-axis line between the first and last right tick
      var rt = p.rightTicks;
      s.clip = false;
      s.markLine = {
        silent: true, symbol: 'none', label: { show: false },
        lineStyle: { color: GRAY, width: 1.3, type: 'solid' },
        data: [[{ coord: [1.04, rt[0]] }, { coord: [1.04, rt[rt.length - 1]] }]]
      };
    }
    series.push(s);
  });
  if (p.outlier) {
    series.push({
      type: 'line', xAxisIndex: i, yAxisIndex: 2 * i + 1, data: pairs(xFine, p.outlier),
      symbol: 'none', silent: true, lineStyle: { color: GRAY, width: 1.4 }
    });
  }
});

var chart = echarts.init(document.getElementById('chart'), null, { renderer: 'canvas' });
chart.setOption({
  animation: false,
  backgroundColor: '#fff',
  textStyle: { fontFamily: FONT },
  grid: grids,
  xAxis: xAxes,
  yAxis: yAxes,
  series: series
});
</script>
</body>
</html>
